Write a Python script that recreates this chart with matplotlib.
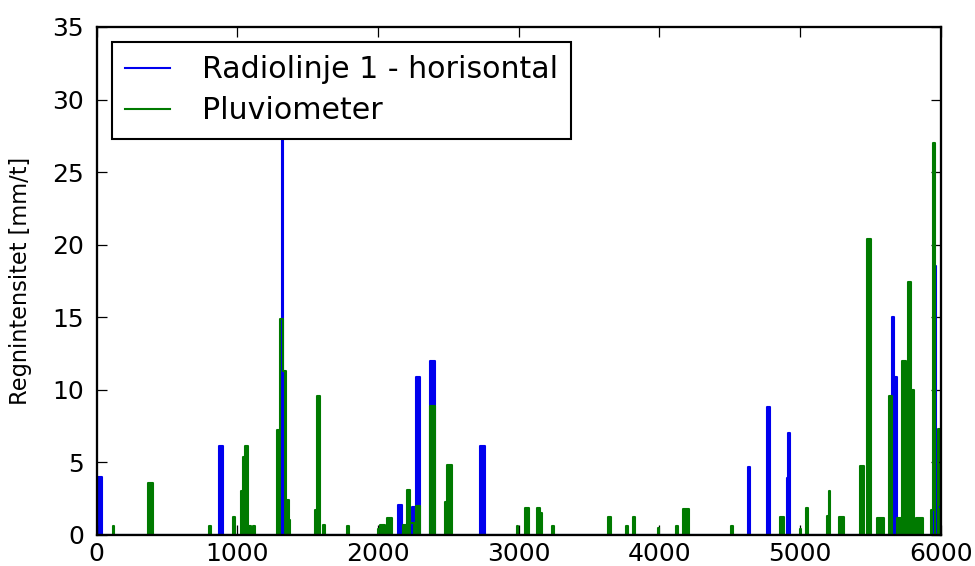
import matplotlib
matplotlib.use("Agg")
import matplotlib.pyplot as plt

# ---- data (sample index ranges and rain intensity in mm/t) ----
radio_start = [0, 870, 1317, 2142, 2240, 2268, 2370, 2725, 4628, 4766, 4905, 4915, 5655, 5665, 5955, 5970]
radio_end   = [35, 899, 1326, 2171, 2263, 2299, 2405, 2760, 4645, 4785, 4915, 4932, 5665, 5690, 5965, 6000]
radio_value = [4.0, 6.1, 31.0, 2.05, 1.9, 10.9, 12.0, 6.1, 4.7, 8.85, 3.9, 7.0, 15.0, 10.9, 18.5, 1.9]

pluvio_start = [115, 368, 800, 970, 1025, 1040, 1055, 1080, 1110, 1279, 1302, 1321, 1345, 1365,
                1555, 1565, 1610, 1780, 2000, 2015, 2064, 2180, 2206, 2228, 2268, 2370, 2478, 2492,
                2985, 3046, 3129, 3150, 3238, 3637, 3765, 3815, 3990, 4120, 4171, 4512, 4861, 5000,
                5039, 5195, 5205, 5274, 5423, 5477, 5549, 5630, 5690, 5727, 5767, 5791, 5822, 5928,
                5945, 5978]
pluvio_end   = [125, 397, 810, 985, 1040, 1055, 1075, 1100, 1125, 1302, 1321, 1345, 1365, 1374,
                1565, 1587, 1625, 1792, 2015, 2050, 2100, 2200, 2228, 2262, 2299, 2405, 2492, 2525,
                2995, 3075, 3150, 3164, 3248, 3656, 3775, 3830, 3996, 4130, 4213, 4525, 4883, 5006,
                5060, 5205, 5215, 5310, 5452, 5505, 5596, 5655, 5727, 5757, 5791, 5810, 5872, 5945,
                5960, 6000]
pluvio_value = [0.6, 3.6, 0.6, 1.25, 3.0, 5.4, 6.1, 0.6, 0.6, 7.2, 14.9, 11.3, 2.4, 1.0,
                1.7, 9.6, 0.7, 0.65, 0.4, 0.7, 1.2, 0.7, 3.1, 0.8, 2.0, 8.9, 2.3, 4.8,
                0.6, 1.85, 1.85, 1.5, 0.65, 1.23, 0.6, 1.23, 0.45, 0.6, 1.8, 0.6, 1.23, 0.4,
                1.85, 1.3, 3.0, 1.23, 4.76, 20.4, 1.2, 9.6, 1.2, 12.0, 17.4, 10.0, 1.2, 1.7,
                27.0, 7.3]

x_ticks = [0, 1000, 2000, 3000, 4000, 5000, 6000]
y_ticks = [0, 5, 10, 15, 20, 25, 30, 35]


def pulses(starts, ends, values, x_end):
    xs, ys = [0], [0]
    prev_end = None
    for s, e, v in sorted(zip(starts, ends, values)):
        if prev_end is not None and s != prev_end:
            xs.append(prev_end)
            ys.append(0)
        xs.append(s)
        ys.append(v)
        prev_end = e
    xs.append(prev_end)
    ys.append(0)
    xs.append(x_end)
    ys.append(0)
    return xs, ys


rx, ry = pulses(radio_start, radio_end, radio_value, 6000)
px, py = pulses(pluvio_start, pluvio_end, pluvio_value, 6000)

BLUE = '#0000ee'
GREEN = '#007a00'

plt.rcParams['font.family'] = ['DejaVu Sans']
fig = plt.figure(figsize=(6.5, 566 / 150), dpi=150, facecolor='white')
ax = fig.add_axes([0.0992, 0.0548, 0.8656, 0.8975])

ax.fill_between(rx, ry, 0, step='post', color=BLUE, lw=0)
ax.plot(rx, ry, drawstyle='steps-post', color=BLUE, lw=1.0, label='Radiolinje 1 - horisontal')
ax.fill_between(px, py, 0, step='post', color=GREEN, lw=0)
ax.plot(px, py, drawstyle='steps-post', color=GREEN, lw=1.0, label='Pluviometer')

ax.set_xlim(0, 6000)
ax.set_ylim(0, 35)
ax.set_xticks(x_ticks)
ax.set_yticks(y_ticks)
ax.tick_params(direction='in', length=5, width=0.6, top=True, right=True, labelsize=12)
ax.tick_params(axis='x', pad=3.5)
ax.tick_params(axis='y', pad=6)
for sp in ax.spines.values():
    sp.set_linewidth(1.1)
ax.set_ylabel('Regnintensitet [mm/t]', fontsize=10.8, labelpad=10)

leg = ax.legend(loc='upper left', fontsize=14.4, handlelength=1.5, handletextpad=1.05,
                borderpad=0.45, labelspacing=0.4, borderaxespad=0.5, fancybox=False,
                framealpha=1.0, edgecolor='black')
leg.get_frame().set_linewidth(1.0)

fig.savefig('out.png', dpi=150, facecolor='white')
